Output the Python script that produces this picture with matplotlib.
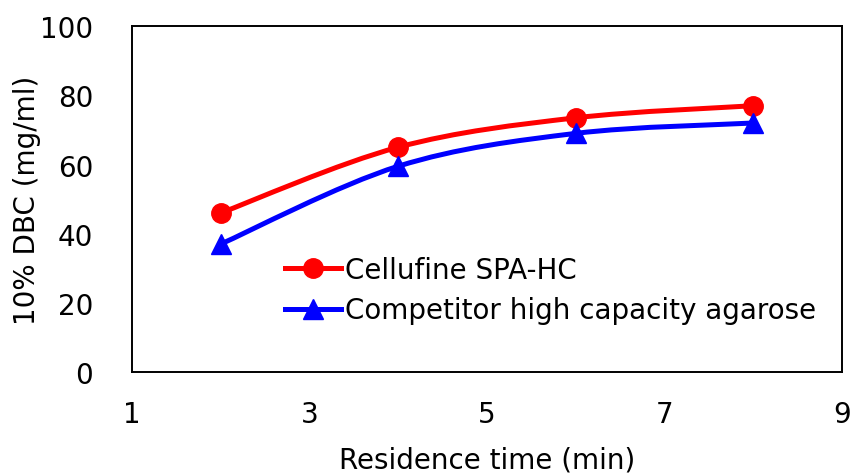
import numpy as np
import matplotlib
matplotlib.use('Agg')
import matplotlib.pyplot as plt
from matplotlib.path import Path
from matplotlib.patches import PathPatch
from matplotlib.lines import Line2D

# data
residence_time = [2, 4, 6, 8]
cellufine = [46, 65, 73.5, 77]
competitor = [37, 59.5, 69, 72]
series_names = ['Cellufine SPA-HC', 'Competitor high capacity agarose']
x_ticks = [1, 3, 5, 7, 9]
y_ticks = [0, 20, 40, 60, 80, 100]

plt.rcParams['font.family'] = ['DejaVu Sans']
FS = 20


def smooth_path(xs, ys):
    # Excel-style smoothed line: cubic bezier segments through the points
    pts = np.column_stack([xs, ys]).astype(float)
    n = len(pts)
    verts = [pts[0]]
    codes = [Path.MOVETO]
    for i in range(n - 1):
        p0 = pts[i - 1] if i > 0 else pts[i]
        p1 = pts[i]
        p2 = pts[i + 1]
        p3 = pts[i + 2] if i + 2 < n else pts[i + 1]
        c1 = p1 + (p2 - p0) / 6.0
        c2 = p2 - (p3 - p1) / 6.0
        verts += [c1, c2, p2]
        codes += [Path.CURVE4] * 3
    return Path(verts, codes)


fig = plt.figure(figsize=(8.54, 4.77), dpi=100)
ax = fig.add_axes([0.1546, 0.218, 0.831, 0.725])

colors = ['#ff0000', '#0000ff']
markers = ['o', '^']
handles = []
for ys, c, m, name in zip([cellufine, competitor], colors, markers, series_names):
    ax.add_patch(PathPatch(smooth_path(residence_time, ys), fill=False,
                           edgecolor=c, lw=3.6, capstyle='round', joinstyle='round'))
    ax.plot(residence_time, ys, ls='none', marker=m, color=c, ms=14)
    handles.append(Line2D([0], [0], color=c, lw=3.6, marker=m, ms=14, label=name))

ax.set_xlim(1, 9)
ax.set_ylim(0, 100)
ax.set_xticks(x_ticks)
ax.set_yticks(y_ticks)
ax.tick_params(axis='y', length=0, labelsize=FS, pad=28)
ax.tick_params(axis='x', length=0, labelsize=FS, pad=20)
for s in ax.spines.values():
    s.set_linewidth(1.4)

ax.set_xlabel('Residence time (min)', fontsize=FS, labelpad=13)
ax.set_ylabel('10% DBC (mg/ml)', fontsize=FS)
ax.yaxis.set_label_coords(-0.128, 0.5)

ax.legend(handles=handles, loc='center left', bbox_to_anchor=(0.2, 0.237),
          frameon=False, fontsize=FS, handlelength=2.0, handletextpad=0.15,
          labelspacing=0.45, borderaxespad=0)

fig.savefig('out.png', dpi=100)
